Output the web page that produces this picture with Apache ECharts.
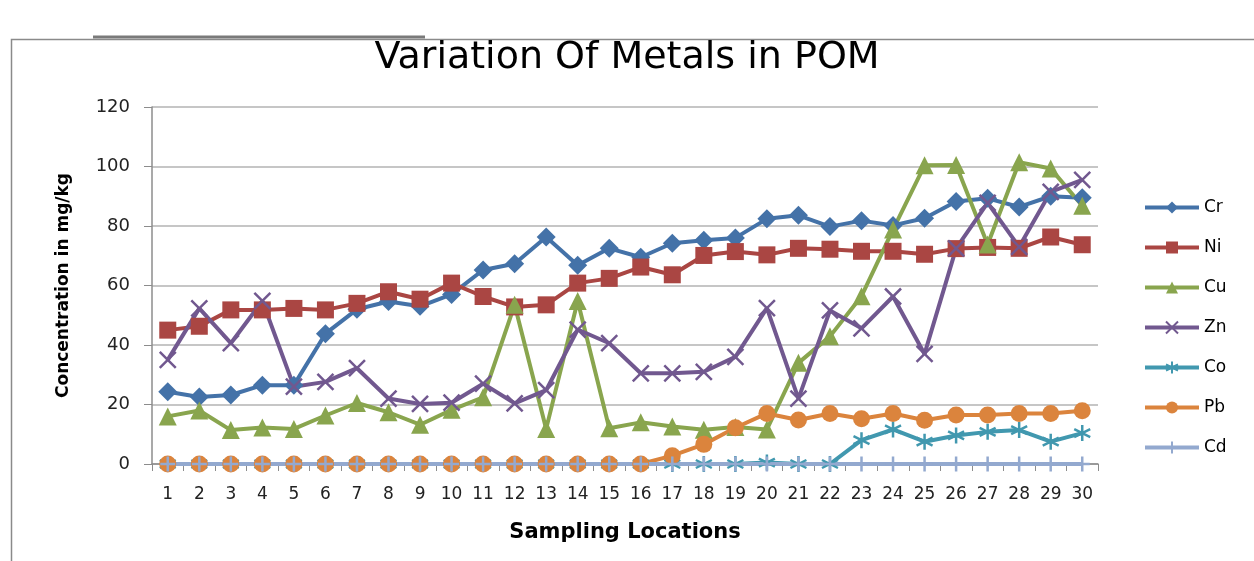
<!DOCTYPE html>
<html>
<head>
<meta charset="utf-8">
<title>Variation Of Metals in POM</title>
<script src="https://cdn.jsdelivr.net/npm/echarts@6/dist/echarts.min.js"></script>
<style>
  html, body { margin: 0; padding: 0; background: #fff; }
  #chart { width: 1254px; height: 561px; }
</style>
</head>
<body>
<div id="chart"></div>
<script>
// sampling locations 1..30
var locations = ["1","2","3","4","5","6","7","8","9","10","11","12","13","14","15",
  "16","17","18","19","20","21","22","23","24","25","26","27","28","29","30"];

// concentrations in mg/kg
var cr = [24.3, 22.5, 23.2, 26.5, 26.5, 43.8, 52, 54.6, 53, 57, 65.2, 67.3, 76.3, 66.8, 72.5,
  69.5, 74.2, 75.2, 76, 82.4, 83.6, 79.8, 81.8, 80.2, 82.6, 88.2, 89.3, 86.4, 90, 89.5];
var ni = [45, 46.3, 51.8, 51.8, 52.3, 51.8, 54, 57.9, 55.4, 60.8, 56.3, 52.8, 53.5, 60.8, 62.4,
  66.2, 63.6, 70.1, 71.4, 70.3, 72.5, 72.2, 71.5, 71.5, 70.5, 72.4, 72.8, 72.5, 76.3, 73.7];
var cu = [16, 18, 11.4, 12.3, 11.8, 16.3, 20.5, 17.4, 13.2, 18.2, 22.4, 53.5, 11.8, 54.8, 12,
  14, 12.6, 11.5, 12.4, 11.6, 34, 42.9, 56.4, 78.8, 100.4, 100.5, 73.8, 101.4, 99.3, 86.8];
var zn = [35, 52.3, 40.6, 54.8, 26, 27.6, 32.2, 22, 20.2, 20.6, 27, 20.4, 24.8, 45.2, 40.6,
  30.5, 30.5, 31, 36, 52.4, 22, 51.6, 45.6, 56.3, 37, 72.5, 87.8, 73, 91.5, 95.5];
var co = [0, 0, 0, 0, 0, 0, 0, 0, 0, 0, 0, 0, 0, 0, 0,
  0, 0, 0, 0, 0.5, 0, 0, 8, 11.6, 7.5, 9.6, 10.8, 11.4, 7.5, 10.4];
var pb = [0, 0, 0, 0, 0, 0, 0, 0, 0, 0, 0, 0, 0, 0, 0,
  0, 2.8, 6.6, 12.2, 17, 14.8, 17, 15.2, 17, 14.7, 16.5, 16.5, 17, 17, 17.9];
var cd = [0, 0, 0, 0, 0, 0, 0, 0, 0, 0, 0, 0, 0, 0, 0,
  0, 0, 0, 0, 0, 0, 0, 0, 0, 0, 0, 0, 0, 0, 0];

var yTicks = [0, 20, 40, 60, 80, 100, 120];

var colors = {
  cr: "#4472a8",
  ni: "#aa4643",
  cu: "#89a54e",
  zn: "#71588f",
  co: "#4198af",
  pb: "#db843d",
  cd: "#93a9cf"
};

// stroke-only marker shapes (x, asterisk, plus)
var xMark = "path://M0,0L10,10M10,0L0,10";
var starMark = "path://M5,0L5,10M0.7,2.5L9.3,7.5M9.3,2.5L0.7,7.5";
var plusMark = "path://M5,0L5,10M0,5L10,5";

function lineSeries(name, data, color, symbol, size, strokeOnly) {
  var s = {
    name: name,
    type: "line",
    data: data,
    symbol: symbol,
    symbolSize: size,
    showAllSymbol: true,
    lineStyle: { color: color, width: 4 },
    itemStyle: { color: color },
    emphasis: { disabled: true }
  };
  if (strokeOnly) {
    s.itemStyle = { color: "none", borderColor: color, borderWidth: 2.5 };
  }
  return s;
}

var chart = echarts.init(document.getElementById("chart"));

var option = {
  backgroundColor: "#fff",
  animation: false,
  title: {
    text: "Variation Of Metals in POM",
    left: "center",
    top: 34,
    textStyle: {
      fontFamily: "DejaVu Sans",
      fontSize: 38,
      fontWeight: "normal",
      color: "#000"
    }
  },
  legend: {
    orient: "vertical",
    left: 1138,
    top: 194,
    itemWidth: 54,
    itemHeight: 15,
    itemGap: 23,
    lineStyle: { width: 4 },
    textStyle: { fontFamily: "DejaVu Sans", fontSize: 17, color: "#000" },
    data: ["Cr", "Ni", "Cu", "Zn", "Co", "Pb", "Cd"]
  },
  grid: {
    left: 152,
    right: 156,
    top: 107,
    bottom: 97
  },
  xAxis: {
    type: "category",
    data: locations,
    boundaryGap: true,
    name: "Sampling Locations",
    nameLocation: "middle",
    nameGap: 58,
    nameTextStyle: {
      fontFamily: "DejaVu Sans",
      fontSize: 21,
      fontWeight: "bold",
      color: "#000"
    },
    axisLine: { lineStyle: { color: "#8c8c8c", width: 1.5 } },
    axisTick: { show: true, alignWithLabel: false, length: 7, interval: 0,
      lineStyle: { color: "#8c8c8c" } },
    axisLabel: { interval: 0, fontFamily: "DejaVu Sans", fontSize: 17, color: "#222", margin: 22 }
  },
  yAxis: {
    type: "value",
    min: yTicks[0],
    max: yTicks[yTicks.length - 1],
    interval: 20,
    name: "Concentration in mg/kg",
    nameLocation: "middle",
    nameGap: 80,
    nameTextStyle: {
      fontFamily: "DejaVu Sans",
      fontSize: 17,
      fontWeight: "bold",
      color: "#000"
    },
    axisLine: { show: true, lineStyle: { color: "#8c8c8c", width: 1.5 } },
    axisTick: { show: true, length: 8, lineStyle: { color: "#8c8c8c" } },
    axisLabel: { fontFamily: "DejaVu Sans", fontSize: 18, color: "#222", margin: 22 },
    splitLine: { lineStyle: { color: "#b3b3b3", width: 1.5 } }
  },
  series: [
    lineSeries("Cr", cr, colors.cr, "diamond", 19, false),
    lineSeries("Ni", ni, colors.ni, "rect", 17, false),
    lineSeries("Cu", cu, colors.cu, "triangle", 18, false),
    lineSeries("Zn", zn, colors.zn, xMark, 16, true),
    lineSeries("Co", co, colors.co, starMark, 16, true),
    lineSeries("Pb", pb, colors.pb, "circle", 17, false),
    lineSeries("Cd", cd, colors.cd, plusMark, 15, true)
  ],
  graphic: [
    {
      type: "rect",
      left: 9,
      top: 37,
      shape: { width: 1300, height: 600 },
      style: { fill: "none", stroke: "#8a8a8a", lineWidth: 1.5 },
      silent: true
    },
    {
      type: "line",
      shape: { x1: 93, y1: 37, x2: 425, y2: 37 },
      style: { stroke: "#7a7a7a", lineWidth: 3 },
      silent: true
    }
  ]
};

chart.setOption(option);
</script>
</body>
</html>
